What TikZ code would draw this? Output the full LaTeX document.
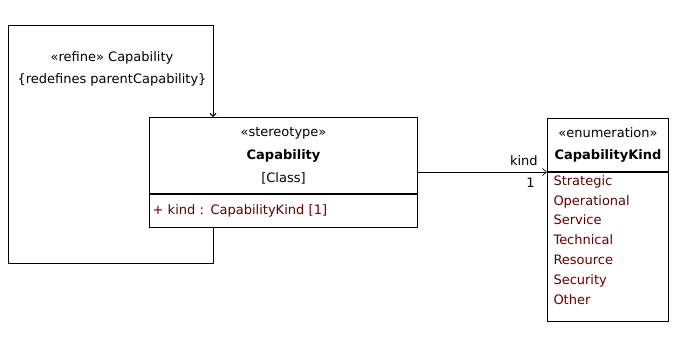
\documentclass[tikz,border=0pt]{standalone}
\usepackage{fontspec}
\setmainfont{DejaVu Sans}
\usepackage{xcolor}
\usetikzlibrary{arrows.meta, positioning}
\definecolor{featred}{RGB}{96,0,0}

\begin{document}
\begin{tikzpicture}[x=1pt, y=-1pt,
    classbox/.style={draw, rectangle, line width=1pt, anchor=north west, inner sep=0pt},
    classhead/.style={classbox, align=center, font=\fontsize{13}{23}\selectfont},
    classbody/.style={classbox, align=left, font=\fontsize{13}{19.8}\selectfont, text=featred},
    selfassoc/.style={draw, line width=1pt, -{Straight Barb[length=3pt, width=6pt]}},
    assoc/.style={draw, line width=0.7pt, -{Straight Barb[length=4pt, width=7pt]}},
    endlabel/.style={font=\fontsize{13}{15}\selectfont, inner sep=0pt}]
    \useasboundingbox (0,0) rectangle (678,341);

    % Classes
    \node[classhead, minimum width=268pt, minimum height=76pt] (capHead) at (149,117)
        {«stereotype»\\\textbf{Capability}\\{[Class]}};
    \node[classbody, minimum width=268pt, minimum height=33pt, text width=262pt, inner xsep=3pt] (capBody) at (capHead.south west)
        {+ kind : CapabilityKind [1]};
    \node[classhead, minimum width=121pt, minimum height=53pt, font=\fontsize{13}{22}\selectfont] (kindHead) at (547,118)
        {«enumeration»\\\textbf{CapabilityKind}};
    \node[classbox, minimum width=121pt, minimum height=149pt] (kindBody) at (kindHead.south west) {};
    \node[classbody, draw=none, anchor=north west, inner sep=2pt] (kindLits) at (551,173)
        {Strategic\\Operational\\Service\\Technical\\Resource\\Security\\Other};

    % Self association
    \coordinate (loopTL) at (8,25);
    \coordinate (loopTR) at (213,25);
    \coordinate (loopBL) at (8,263);
    \coordinate (loopBR) at (213,263);
    \draw[selfassoc] (capBody.south -| loopTR) -- (loopBR) -- (loopBL) -- (loopTL) -- (loopTR) -- (capHead.north -| loopTR);
    \node[align=center, font=\fontsize{13}{22}\selectfont] (loopLabel) at (112,69)
        {«refine» Capability\\\{redefines parentCapability\}};

    % Association to enumeration
    \draw[assoc] (capHead.east |- kindHead.south west) -- (kindHead.south west)
        node[endlabel, anchor=south east, pos=1, xshift=-9pt, yshift=6pt] (kindRole) {kind}
        node[endlabel, anchor=north east, pos=1, xshift=-12pt, yshift=-6pt] (kindMult) {1};
\end{tikzpicture}
\end{document}
